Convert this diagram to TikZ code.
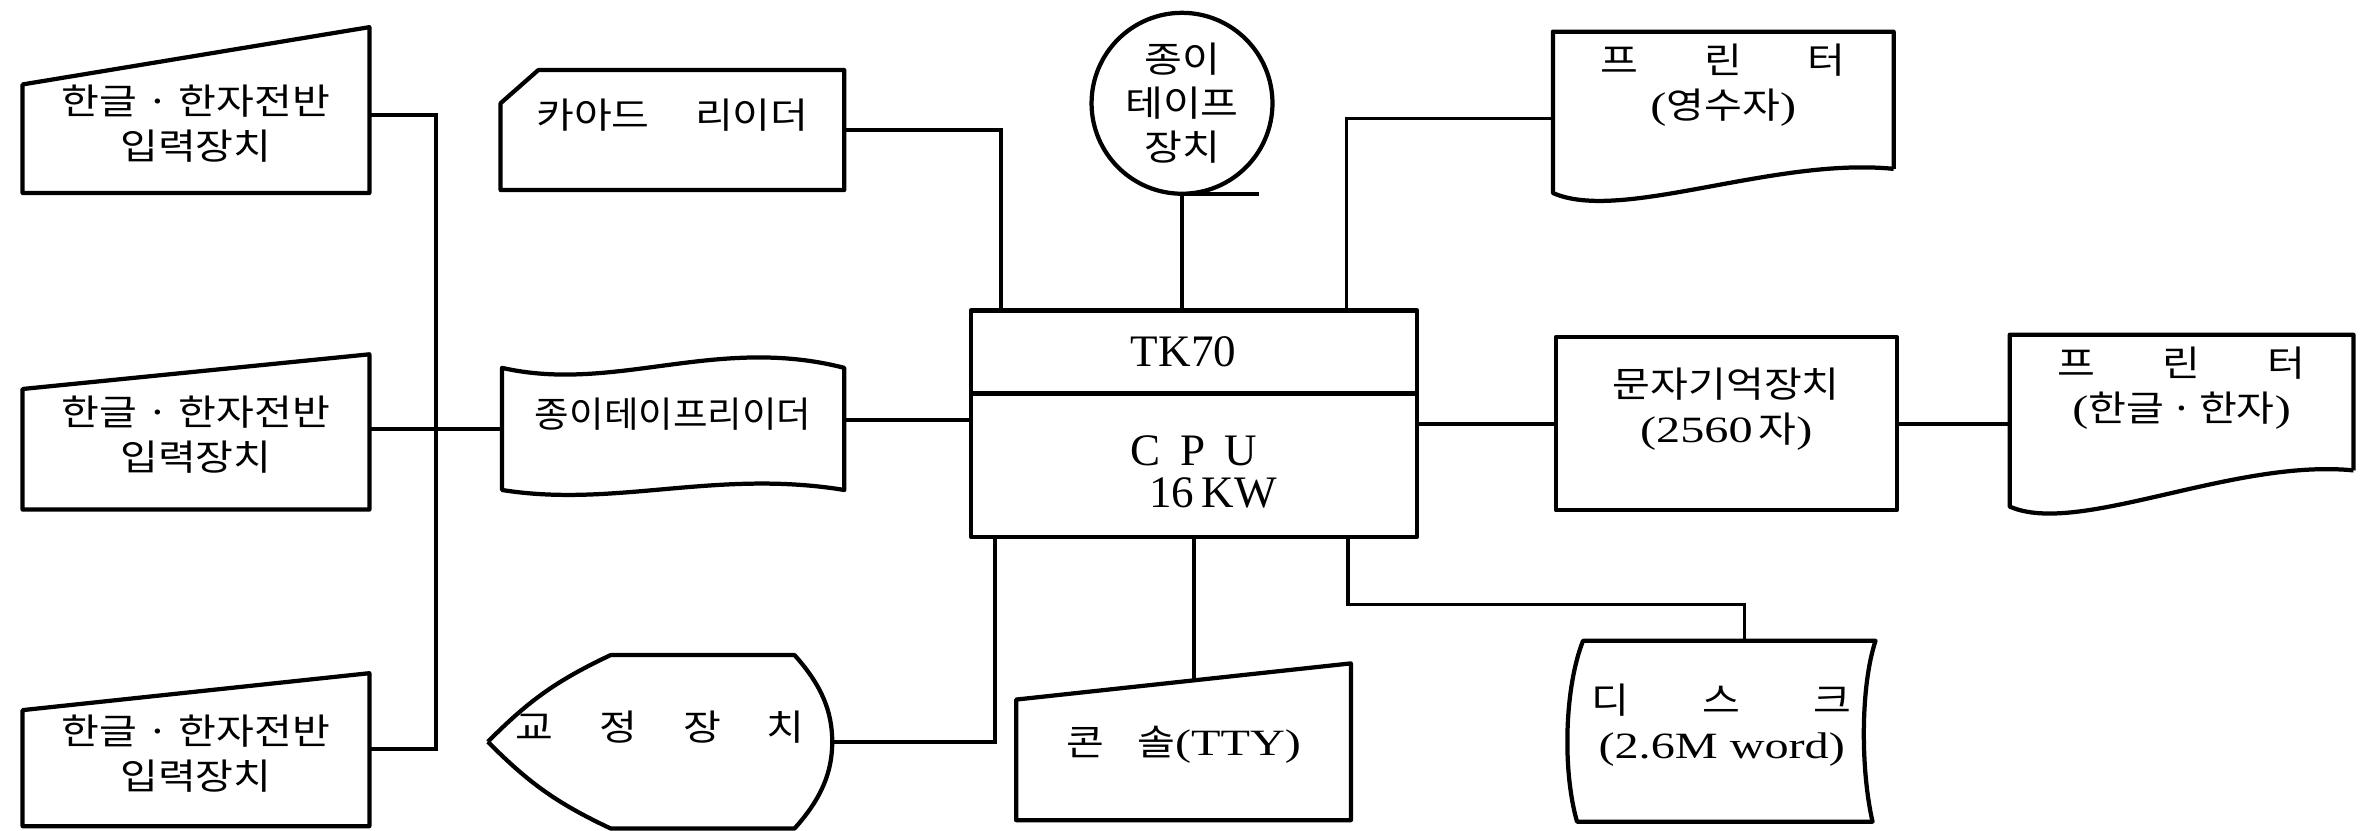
\documentclass[tikz,border=0pt]{standalone}
\usepackage{fontspec}
\setmainfont{Liberation Serif}
\newfontfamily\kr[FakeStretch=1.15]{Noto Sans CJK KR}
\newfontfamily\krn[FakeStretch=1.05]{Noto Sans CJK KR}
\newfontfamily\rmwide[FakeStretch=1.3]{Liberation Serif}
\usepackage{tikz}
\usetikzlibrary{calc,fit}

\newcommand{\wtxt}[1]{{\rmwide\fontsize{14}{17}\selectfont #1}}

\tikzset{
  core/.style={inner sep=0pt, outer sep=0pt},
  lbl/.style={font=\kr\fontsize{13.5}{17}\selectfont, align=center},
  outline/.style={line width=1.6pt, line join=round},
  wire/.style={line width=1.4pt},
  big/.style={font=\rmfamily\fontsize{17}{16.2}\selectfont, align=center, inner sep=0pt}
}

\begin{document}
\begin{tikzpicture}[x=2cm,y=-2cm]
  \useasboundingbox (0,0) rectangle (15.68,5.51);

  % keyboards on the left
  \node[core,lbl,fit={(0.15,0.56) (2.45,1.28)}] (kb1) {한글 · 한자전반\\입력장치};
  \node[core,lbl,fit={(0.15,2.58) (2.45,3.38)}] (kb2) {한글 · 한자전반\\입력장치};
  \node[core,lbl,fit={(0.15,4.71) (2.45,5.48)}] (kb3) {한글 · 한자전반\\입력장치};
  \foreach \n/\h in {kb1/0.38,kb2/0.23,kb3/0.245}
    \draw[outline] (\n.south west) -- (\n.north west) -- ($(\n.north east)+(0,-\h)$) -- (\n.south east) -- cycle;

  % readers
  \node[core,lbl,fit={(3.32,0.465) (5.60,1.26)}] (card) {카아드\hspace{0.6cm}리이더\hspace*{0.4cm}};
  \draw[outline] (card.south west) -- ($(card.north west)+(0,0.22)$) -- ($(card.north west)+(0.25,0)$)
    -- (card.north east) -- (card.south east) -- cycle;
  \node[core,lbl,font=\krn\fontsize{13.5}{17}\selectfont,fit={(3.33,2.44) (5.60,3.25)}] (tape) {종이테이프리이더};
  \draw[outline] (tape.north west) .. controls +(0.75,0.17) and +(-0.85,-0.22) .. (tape.north east)
    -- (tape.south east) .. controls +(-0.85,-0.14) and +(0.75,0.12) .. (tape.south west) -- cycle;
  \node[core,lbl,fit={(3.236,4.345) (5.52,5.495)}] (corr) {교\hspace{0.61cm}정\hspace{0.61cm}장\hspace{0.61cm}치};
  \draw[outline] (corr.west) to[bend left=10] ($(corr.north west)+(0.814,0)$) -- ($(corr.north east)+(-0.25,0)$)
    .. controls +(0.18,0.2) and +(0,-0.2) .. (corr.east)
    .. controls +(0,0.2) and +(0.18,-0.2) .. ($(corr.south east)+(-0.25,0)$)
    -- ($(corr.south west)+(0.814,0)$) to[bend left=10] (corr.west);

  % central unit
  \node[core,draw,outline,fit={(6.44,2.06) (9.40,3.56)}] (cpu) {};
  \draw[outline] ($(cpu.north west)+(0,0.55)$) -- ($(cpu.north east)+(0,0.55)$);
  \node[big] (tk) at ($(cpu.north)+(-0.07,0.275)$) {TK70};
  \node[big] (cpuname) at ($(cpu.south)+(0,-0.43)$) {C\hspace{0.26cm}P\hspace{0.26cm}U\\\hspace*{0.5cm}16\,KW};

  \node[circle,draw,outline,lbl,font=\kr\fontsize{13.5}{16.5}\selectfont,minimum size=2.4cm,inner sep=0pt,outer sep=0pt]
    (tapeunit) at (7.84,0.685) {종이\\테이프\\장치};
  \draw[outline] (tapeunit.south) -- ++(0.51,0);

  \node[core,lbl,fit={(6.74,4.64) (8.96,5.44)}] (tty) {콘\hspace{0.44cm}솔\wtxt{(TTY)}};
  \draw[outline] (tty.south west) -- (tty.north west) -- ($(tty.north east)+(0,-0.24)$) coordinate (ttyne)
    -- (tty.south east) -- cycle;
  \path (tty.north west) -- (ttyne) coordinate[pos=0.53] (ttyin);

  % outputs on the right
  \node[core,lbl,fit={(10.30,0.21) (12.56,1.12)}] (prt1)
    {프\hspace{0.87cm}린\hspace{0.87cm}터\\\wtxt{(}영수자\wtxt{)}};
  \draw[outline] (prt1.south east) -- (prt1.north east) -- (prt1.north west) -- ($(prt1.south west)+(0,0.16)$)
    .. controls +(0.45,0.2) and +(-0.8,-0.08) .. (prt1.south east);
  \node[core,draw,outline,lbl,fit={(10.32,2.235) (12.58,3.385)}] (mem)
    {문자기억장치\\\wtxt{(2560}\,자\wtxt{)}};
  \node[core,lbl,fit={(13.33,2.22) (15.61,3.12)}] (prt2)
    {프\hspace{0.89cm}린\hspace{0.89cm}터\\\wtxt{(}한글\,·\,한자\wtxt{)}};
  \draw[outline] (prt2.south east) -- (prt2.north east) -- (prt2.north west) -- ($(prt2.south west)+(0,0.24)$)
    .. controls +(0.45,0.2) and +(-0.8,-0.08) .. (prt2.south east);
  \node[core,lbl,fit={(10.40,4.37) (12.44,5.45)}] (disk)
    {디\hspace{0.97cm}스\hspace{0.97cm}크\\\wtxt{(2.6M word)}};
  \draw[outline] ($(disk.north west)+(0.10,-0.12)$) coordinate (dtl) -- ($(disk.north east)+(0,-0.12)$)
    .. controls +(-0.10,0.30) and +(-0.08,-0.35) .. ($(disk.south east)+(-0.02,0)$)
    -- ($(disk.south west)+(0.06,0)$) .. controls +(-0.10,-0.35) and +(-0.12,0.30) .. (dtl) -- cycle;

  % connections
  \coordinate (bus1) at (2.89,0.765);
  \coordinate (bus3) at (2.89,4.97);
  \draw[wire] (kb1.east |- bus1) -- (bus1) -- (bus3) -- (kb3.east |- bus3);
  \draw[wire] (kb2.east |- tape.west) -- (tape.west);
  \draw[wire] ($(tape.east)+(0,-0.06)$) -- ($(tape.east -| cpu.west)+(0,-0.06)$);
  \draw[wire] (card.east) -| ($(cpu.north west)+(0.20,0)$);
  \draw[wire] (corr.east) -| ($(cpu.south west)+(0.16,0)$);
  \draw[wire] (tapeunit.south) -- (tapeunit.south |- cpu.north);
  \draw[wire] ($(cpu.north east)+(-0.47,0)$) |- ($(prt1.west)+(0,0.12)$);
  \draw[wire] (cpu.east) -- (mem.west);
  \draw[wire] (mem.east) -- (mem.east -| prt2.west);
  \draw[wire] (cpu.south) -- (cpu.south |- ttyin);
  \coordinate (dbend) at (11.57,4.01);
  \draw[wire] ($(cpu.south east)+(-0.46,0)$) |- (dbend) -- (dbend |- dtl);
\end{tikzpicture}
\end{document}
